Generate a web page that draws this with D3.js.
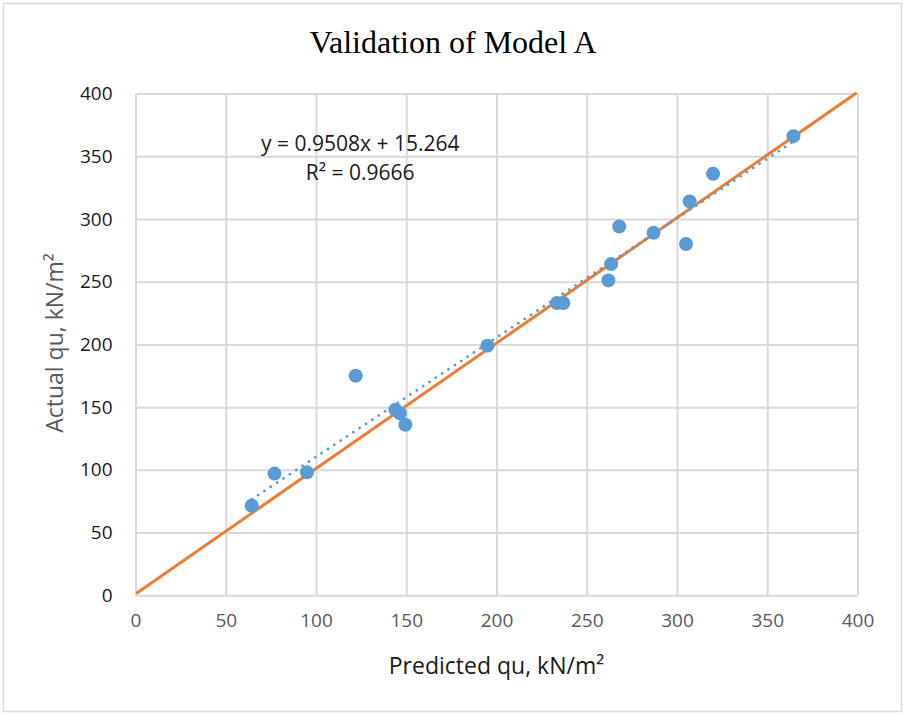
<!DOCTYPE html>
<html>
<head>
<meta charset="utf-8">
<script src="https://cdn.jsdelivr.net/npm/d3@7"></script>
<style>
    body { margin: 0; background: #fff; }
    svg { display: block; }
</style>
</head>
<body>
<div id="chart"></div>
<script>
// Data
const predicted = [64.4, 77, 95, 122, 144, 146.5, 149.5, 195, 233.5, 237, 262, 263.5, 268, 287, 305, 307, 320, 364.5];
const actual = [71.4, 97, 98, 175, 148, 145, 136, 199, 233, 233, 251, 264, 294, 289, 280, 314, 336, 366];

// Linear trendline (Excel label) and the 1:1 line
const trendSlope = 0.9508;
const trendIntercept = 15.264;
const equalityX = [1, 399];
const equalityY = [2, 400];

const xTicks = [0, 50, 100, 150, 200, 250, 300, 350, 400];
const yTicks = [0, 50, 100, 150, 200, 250, 300, 350, 400];

const width = 905;
const height = 715;
const margin = { top: 93.5, right: 47.5, bottom: 119.7, left: 135.5 };
const innerW = width - margin.left - margin.right;
const innerH = height - margin.top - margin.bottom;

const svg = d3.select("#chart")
    .append("svg")
    .attr("width", width)
    .attr("height", height);

// Outer chart border
svg.append("rect")
    .attr("x", 3.5)
    .attr("y", 3.5)
    .attr("width", width - 7)
    .attr("height", height - 7)
    .attr("fill", "#fff")
    .attr("stroke", "#d9d9d9")
    .attr("stroke-width", 1.5);

const g = svg.append("g")
    .attr("transform", `translate(${margin.left},${margin.top})`);

// Scales
const x = d3.scaleLinear().domain([0, 400]).range([0, innerW]);
const y = d3.scaleLinear().domain([0, 400]).range([innerH, 0]);

// Gridlines
g.append("g")
    .attr("transform", `translate(0,${innerH})`)
    .call(d3.axisBottom(x).tickValues(xTicks).tickSize(-innerH).tickFormat(""))
    .call(s => s.select(".domain").remove())
    .selectAll("line")
    .attr("stroke", "#d9d9d9")
    .attr("stroke-width", 2);

g.append("g")
    .call(d3.axisLeft(y).tickValues(yTicks).tickSize(-innerW).tickFormat(""))
    .call(s => s.select(".domain").remove())
    .selectAll("line")
    .attr("stroke", "#d9d9d9")
    .attr("stroke-width", 2);

// Tick labels
g.append("g")
    .attr("transform", `translate(0,${innerH})`)
    .call(d3.axisBottom(x).tickValues(xTicks).tickSize(0).tickPadding(18))
    .call(s => s.select(".domain").remove())
    .selectAll("text")
    .attr("font-family", "'Open Sans', sans-serif")
    .attr("font-size", 19)
    .attr("fill", "#595959");

g.append("g")
    .call(d3.axisLeft(y).tickValues(yTicks).tickSize(0).tickPadding(23))
    .call(s => s.select(".domain").remove())
    .selectAll("text")
    .attr("font-family", "'Open Sans', sans-serif")
    .attr("font-size", 19)
    .attr("fill", "#1a1a1a");

// 1:1 line
g.append("line")
    .attr("x1", x(equalityX[0]))
    .attr("y1", y(equalityY[0]))
    .attr("x2", x(equalityX[1]))
    .attr("y2", y(equalityY[1]))
    .attr("stroke", "#ed7d31")
    .attr("stroke-width", 3)
    .attr("stroke-linecap", "round");

// Dotted trendline over the data range
const xMin = d3.min(predicted);
const xMax = d3.max(predicted);
g.append("line")
    .attr("x1", x(xMin))
    .attr("y1", y(trendSlope * xMin + trendIntercept))
    .attr("x2", x(xMax))
    .attr("y2", y(trendSlope * xMax + trendIntercept))
    .attr("stroke", "#5b9bd5")
    .attr("stroke-width", 2.8)
    .attr("stroke-linecap", "round")
    .attr("stroke-dasharray", "0.01 7.6");

// Points
g.append("g")
    .selectAll("circle")
    .data(predicted.map((p, i) => ({ p, a: actual[i] })))
    .join("circle")
    .attr("cx", d => x(d.p))
    .attr("cy", d => y(d.a))
    .attr("r", 7)
    .attr("fill", "#5b9bd5");

// Trendline label
const label = g.append("text")
    .attr("font-family", "'Open Sans', sans-serif")
    .attr("font-size", 21)
    .attr("fill", "#1a1a1a")
    .attr("text-anchor", "middle");
label.append("tspan")
    .attr("x", x(124.5))
    .attr("y", 151 - margin.top)
    .text("y = 0.9508x + 15.264");
label.append("tspan")
    .attr("x", x(124.5))
    .attr("y", 180 - margin.top)
    .text("R² = 0.9666");

// Title
svg.append("text")
    .attr("x", 453)
    .attr("y", 52.5)
    .attr("text-anchor", "middle")
    .attr("font-family", "'Liberation Serif', 'Times New Roman', serif")
    .attr("font-size", 32)
    .attr("fill", "#000")
    .text("Validation of Model A");

// Axis titles
svg.append("text")
    .attr("x", margin.left + innerW / 2)
    .attr("y", 674)
    .attr("text-anchor", "middle")
    .attr("font-family", "'Open Sans', sans-serif")
    .attr("font-size", 23)
    .attr("fill", "#1a1a1a")
    .text("Predicted qu, kN/m²");

svg.append("text")
    .attr("transform", "rotate(-90)")
    .attr("x", -343)
    .attr("y", 63)
    .attr("text-anchor", "middle")
    .attr("font-family", "'Open Sans', sans-serif")
    .attr("font-size", 23)
    .attr("fill", "#595959")
    .text("Actual qu, kN/m²");
</script>
</body>
</html>
